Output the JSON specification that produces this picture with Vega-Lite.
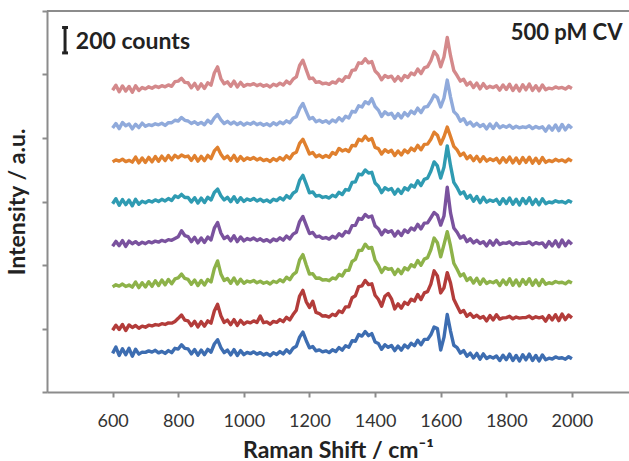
{
"$schema": "https://vega.github.io/schema/vega-lite/v6.json",
"width": 582,
"height": 381,
"autosize": {"type": "none"},
"padding": {"left": 47, "top": 11, "right": 0, "bottom": 69},
"background": "white",
"config": {"view": {"stroke": null}, "font": "Lato"},
"layer": [
{
"data": {"values": [
{"x":600,"s1":304,"s2":486,"s3":828,"s4":1148,"s5":1482,"s6":1812,"s7":2078,"s8":2376},
{"x":610,"s1":354,"s2":526,"s3":844,"s4":1186,"s5":1522,"s6":1828,"s7":2114,"s8":2416},
{"x":620,"s1":288,"s2":492,"s3":834,"s4":1152,"s5":1470,"s6":1818,"s7":2074,"s8":2364},
{"x":630,"s1":340,"s2":532,"s3":850,"s4":1192,"s5":1515,"s6":1833,"s7":2122,"s8":2410},
{"x":640,"s1":294,"s2":484,"s3":831,"s4":1146,"s5":1475,"s6":1814,"s7":2096,"s8":2370},
{"x":650,"s1":344,"s2":528,"s3":842,"s4":1188,"s5":1511,"s6":1824,"s7":2111,"s8":2406},
{"x":660,"s1":282,"s2":508,"s3":826,"s4":1167,"s5":1466,"s6":1810,"s7":2072,"s8":2360},
{"x":670,"s1":336,"s2":524,"s3":866,"s4":1184,"s5":1517,"s6":1850,"s7":2108,"s8":2411},
{"x":680,"s1":298,"s2":502,"s3":822,"s4":1162,"s5":1478,"s6":1804,"s7":2082,"s8":2374},
{"x":690,"s1":314,"s2":519,"s3":860,"s4":1179,"s5":1502,"s6":1843,"s7":2117,"s8":2397},
{"x":700,"s1":312,"s2":510,"s3":827,"s4":1168,"s5":1490,"s6":1808,"s7":2092,"s8":2387},
{"x":710,"s1":324,"s2":526,"s3":868,"s4":1184,"s5":1507,"s6":1848,"s7":2105,"s8":2403},
{"x":720,"s1":314,"s2":520,"s3":832,"s4":1175,"s5":1496,"s6":1812,"s7":2098,"s8":2392},
{"x":730,"s1":328,"s2":531,"s3":876,"s4":1188,"s5":1513,"s6":1854,"s7":2112,"s8":2408},
{"x":740,"s1":308,"s2":526,"s3":838,"s4":1180,"s5":1500,"s6":1817,"s7":2104,"s8":2398},
{"x":750,"s1":320,"s2":538,"s3":882,"s4":1194,"s5":1517,"s6":1857,"s7":2116,"s8":2412},
{"x":760,"s1":304,"s2":532,"s3":844,"s4":1185,"s5":1504,"s6":1822,"s7":2099,"s8":2403},
{"x":770,"s1":326,"s2":544,"s3":886,"s4":1200,"s5":1523,"s6":1862,"s7":2121,"s8":2418},
{"x":780,"s1":310,"s2":542,"s3":852,"s4":1194,"s5":1508,"s6":1828,"s7":2120,"s8":2407},
{"x":790,"s1":344,"s2":556,"s3":890,"s4":1208,"s5":1544,"s6":1864,"s7":2140,"s8":2444},
{"x":800,"s1":338,"s2":580,"s3":898,"s4":1222,"s5":1532,"s6":1844,"s7":2134,"s8":2448},
{"x":810,"s1":372,"s2":606,"s3":928,"s4":1270,"s5":1556,"s6":1866,"s7":2162,"s8":2470},
{"x":820,"s1":344,"s2":566,"s3":894,"s4":1232,"s5":1532,"s6":1852,"s7":2139,"s8":2438},
{"x":830,"s1":340,"s2":560,"s3":886,"s4":1224,"s5":1532,"s6":1858,"s7":2134,"s8":2435},
{"x":840,"s1":300,"s2":522,"s3":848,"s4":1184,"s5":1496,"s6":1824,"s7":2114,"s8":2395},
{"x":850,"s1":334,"s2":556,"s3":882,"s4":1218,"s5":1530,"s6":1861,"s7":2128,"s8":2430},
{"x":860,"s1":290,"s2":512,"s3":838,"s4":1174,"s5":1488,"s6":1818,"s7":2108,"s8":2385},
{"x":870,"s1":330,"s2":554,"s3":878,"s4":1213,"s5":1527,"s6":1855,"s7":2123,"s8":2426},
{"x":880,"s1":294,"s2":518,"s3":842,"s4":1178,"s5":1492,"s6":1822,"s7":2104,"s8":2390},
{"x":890,"s1":336,"s2":560,"s3":886,"s4":1220,"s5":1534,"s6":1863,"s7":2140,"s8":2435},
{"x":900,"s1":314,"s2":542,"s3":866,"s4":1198,"s5":1512,"s6":1838,"s7":2117,"s8":2416},
{"x":910,"s1":378,"s2":638,"s3":972,"s4":1290,"s5":1571,"s6":1898,"s7":2158,"s8":2512},
{"x":920,"s1":412,"s2":690,"s3":1032,"s4":1334,"s5":1598,"s6":1926,"s7":2185,"s8":2560},
{"x":930,"s1":350,"s2":600,"s3":930,"s4":1252,"s5":1546,"s6":1872,"s7":2142,"s8":2468},
{"x":940,"s1":310,"s2":548,"s3":878,"s4":1208,"s5":1512,"s6":1837,"s7":2114,"s8":2427},
{"x":950,"s1":330,"s2":566,"s3":894,"s4":1226,"s5":1533,"s6":1858,"s7":2131,"s8":2442},
{"x":960,"s1":292,"s2":530,"s3":856,"s4":1190,"s5":1498,"s6":1824,"s7":2110,"s8":2407},
{"x":970,"s1":334,"s2":570,"s3":898,"s4":1230,"s5":1538,"s6":1863,"s7":2126,"s8":2448},
{"x":980,"s1":288,"s2":524,"s3":850,"s4":1184,"s5":1494,"s6":1818,"s7":2106,"s8":2402},
{"x":990,"s1":326,"s2":564,"s3":888,"s4":1221,"s5":1530,"s6":1854,"s7":2122,"s8":2438},
{"x":1000,"s1":294,"s2":534,"s3":856,"s4":1190,"s5":1500,"s6":1824,"s7":2102,"s8":2407},
{"x":1010,"s1":312,"s2":552,"s3":874,"s4":1208,"s5":1520,"s6":1843,"s7":2118,"s8":2422},
{"x":1020,"s1":302,"s2":544,"s3":866,"s4":1198,"s5":1509,"s6":1832,"s7":2108,"s8":2417},
{"x":1030,"s1":316,"s2":560,"s3":878,"s4":1212,"s5":1524,"s6":1846,"s7":2124,"s8":2428},
{"x":1040,"s1":298,"s2":548,"s3":860,"s4":1193,"s5":1504,"s6":1827,"s7":2105,"s8":2412},
{"x":1050,"s1":310,"s2":598,"s3":872,"s4":1206,"s5":1518,"s6":1840,"s7":2116,"s8":2423},
{"x":1060,"s1":292,"s2":546,"s3":856,"s4":1188,"s5":1500,"s6":1822,"s7":2100,"s8":2408},
{"x":1070,"s1":304,"s2":552,"s3":866,"s4":1200,"s5":1512,"s6":1832,"s7":2112,"s8":2418},
{"x":1080,"s1":286,"s2":534,"s3":850,"s4":1182,"s5":1495,"s6":1815,"s7":2097,"s8":2402},
{"x":1090,"s1":310,"s2":556,"s3":872,"s4":1204,"s5":1518,"s6":1838,"s7":2120,"s8":2423},
{"x":1100,"s1":296,"s2":548,"s3":862,"s4":1192,"s5":1507,"s6":1822,"s7":2104,"s8":2412},
{"x":1110,"s1":318,"s2":570,"s3":884,"s4":1214,"s5":1530,"s6":1846,"s7":2126,"s8":2432},
{"x":1120,"s1":300,"s2":554,"s3":868,"s4":1196,"s5":1512,"s6":1827,"s7":2112,"s8":2417},
{"x":1130,"s1":332,"s2":588,"s3":904,"s4":1228,"s5":1546,"s6":1860,"s7":2135,"s8":2448},
{"x":1140,"s1":308,"s2":568,"s3":884,"s4":1206,"s5":1526,"s6":1837,"s7":2120,"s8":2428},
{"x":1150,"s1":344,"s2":610,"s3":924,"s4":1243,"s5":1565,"s6":1876,"s7":2156,"s8":2463},
{"x":1160,"s1":360,"s2":644,"s3":944,"s4":1258,"s5":1582,"s6":1888,"s7":2168,"s8":2481},
{"x":1170,"s1":432,"s2":756,"s3":1040,"s4":1342,"s5":1666,"s6":1958,"s7":2232,"s8":2571},
{"x":1180,"s1":472,"s2":800,"s3":1082,"s4":1382,"s5":1706,"s6":1990,"s7":2272,"s8":2612},
{"x":1190,"s1":406,"s2":712,"s3":1002,"s4":1314,"s5":1638,"s6":1934,"s7":2210,"s8":2538},
{"x":1200,"s1":348,"s2":666,"s3":928,"s4":1248,"s5":1568,"s6":1874,"s7":2150,"s8":2467},
{"x":1210,"s1":358,"s2":714,"s3":932,"s4":1256,"s5":1576,"s6":1886,"s7":2162,"s8":2472},
{"x":1220,"s1":324,"s2":626,"s3":896,"s4":1222,"s5":1542,"s6":1852,"s7":2128,"s8":2438},
{"x":1230,"s1":332,"s2":618,"s3":898,"s4":1228,"s5":1548,"s6":1866,"s7":2140,"s8":2443},
{"x":1240,"s1":316,"s2":598,"s3":882,"s4":1210,"s5":1532,"s6":1847,"s7":2124,"s8":2427},
{"x":1250,"s1":324,"s2":600,"s3":884,"s4":1216,"s5":1538,"s6":1862,"s7":2136,"s8":2432},
{"x":1260,"s1":310,"s2":590,"s3":876,"s4":1204,"s5":1527,"s6":1848,"s7":2117,"s8":2423},
{"x":1270,"s1":332,"s2":612,"s3":898,"s4":1226,"s5":1549,"s6":1886,"s7":2142,"s8":2442},
{"x":1280,"s1":318,"s2":602,"s3":890,"s4":1212,"s5":1537,"s6":1872,"s7":2127,"s8":2432},
{"x":1290,"s1":350,"s2":638,"s3":926,"s4":1246,"s5":1572,"s6":1918,"s7":2160,"s8":2463},
{"x":1300,"s1":330,"s2":626,"s3":914,"s4":1228,"s5":1555,"s6":1898,"s7":2136,"s8":2447},
{"x":1310,"s1":364,"s2":670,"s3":958,"s4":1264,"s5":1594,"s6":1910,"s7":2172,"s8":2482},
{"x":1320,"s1":352,"s2":670,"s3":958,"s4":1254,"s5":1589,"s6":1894,"s7":2158,"s8":2477},
{"x":1330,"s1":404,"s2":742,"s3":1028,"s4":1310,"s5":1650,"s6":1942,"s7":2210,"s8":2533},
{"x":1340,"s1":400,"s2":758,"s3":1044,"s4":1312,"s5":1655,"s6":1938,"s7":2204,"s8":2537},
{"x":1350,"s1":452,"s2":830,"s3":1114,"s4":1368,"s5":1716,"s6":1990,"s7":2254,"s8":2592},
{"x":1360,"s1":440,"s2":836,"s3":1116,"s4":1360,"s5":1710,"s6":1978,"s7":2244,"s8":2588},
{"x":1370,"s1":476,"s2":878,"s3":1164,"s4":1398,"s5":1748,"s6":2014,"s7":2286,"s8":2624},
{"x":1380,"s1":444,"s2":846,"s3":1132,"s4":1376,"s5":1724,"s6":1982,"s7":2270,"s8":2592},
{"x":1390,"s1":460,"s2":852,"s3":1138,"s4":1386,"s5":1730,"s6":1996,"s7":2310,"s8":2602},
{"x":1400,"s1":394,"s2":762,"s3":1038,"s4":1308,"s5":1646,"s6":1926,"s7":2248,"s8":2527},
{"x":1410,"s1":382,"s2":730,"s3":998,"s4":1286,"s5":1620,"s6":1916,"s7":2220,"s8":2502},
{"x":1420,"s1":336,"s2":676,"s3":942,"s4":1238,"s5":1570,"s6":1874,"s7":2170,"s8":2458},
{"x":1430,"s1":372,"s2":754,"s3":980,"s4":1276,"s5":1608,"s6":1908,"s7":2206,"s8":2492},
{"x":1440,"s1":352,"s2":776,"s3":966,"s4":1258,"s5":1591,"s6":1888,"s7":2184,"s8":2477},
{"x":1450,"s1":366,"s2":734,"s3":972,"s4":1270,"s5":1602,"s6":1903,"s7":2195,"s8":2487},
{"x":1460,"s1":326,"s2":654,"s3":926,"s4":1228,"s5":1558,"s6":1862,"s7":2155,"s8":2448},
{"x":1470,"s1":362,"s2":694,"s3":966,"s4":1266,"s5":1597,"s6":1898,"s7":2192,"s8":2483},
{"x":1480,"s1":330,"s2":660,"s3":932,"s4":1232,"s5":1563,"s6":1866,"s7":2158,"s8":2452},
{"x":1490,"s1":370,"s2":706,"s3":978,"s4":1276,"s5":1608,"s6":1906,"s7":2200,"s8":2492},
{"x":1500,"s1":348,"s2":690,"s3":962,"s4":1256,"s5":1591,"s6":1884,"s7":2174,"s8":2477},
{"x":1510,"s1":384,"s2":730,"s3":1002,"s4":1292,"s5":1630,"s6":1920,"s7":2212,"s8":2512},
{"x":1520,"s1":364,"s2":716,"s3":986,"s4":1276,"s5":1614,"s6":1900,"s7":2192,"s8":2498},
{"x":1530,"s1":408,"s2":768,"s3":1036,"s4":1320,"s5":1664,"s6":1942,"s7":2235,"s8":2543},
{"x":1540,"s1":372,"s2":728,"s3":998,"s4":1284,"s5":1626,"s6":1907,"s7":2200,"s8":2507},
{"x":1550,"s1":414,"s2":780,"s3":1046,"s4":1330,"s5":1674,"s6":1950,"s7":2243,"s8":2552},
{"x":1560,"s1":414,"s2":790,"s3":1058,"s4":1332,"s5":1684,"s6":1952,"s7":2248,"s8":2562},
{"x":1570,"s1":450,"s2":850,"s3":1120,"s4":1372,"s5":1738,"s6":1990,"s7":2288,"s8":2608},
{"x":1580,"s1":512,"s2":954,"s3":1212,"s4":1414,"s5":1812,"s6":2046,"s7":2338,"s8":2681},
{"x":1590,"s1":500,"s2":914,"s3":1176,"s4":1392,"s5":1780,"s6":2022,"s7":2318,"s8":2648},
{"x":1600,"s1":330,"s2":780,"s3":1064,"s4":1314,"s5":1684,"s6":1952,"s7":2244,"s8":2561},
{"x":1610,"s1":430,"s2":820,"s3":1160,"s4":1386,"s5":1770,"s6":2010,"s7":2314,"s8":2638},
{"x":1620,"s1":610,"s2":940,"s3":1262,"s4":1612,"s5":1938,"s6":2086,"s7":2456,"s8":2792},
{"x":1630,"s1":480,"s2":858,"s3":1150,"s4":1410,"s5":1782,"s6":2012,"s7":2322,"s8":2648},
{"x":1640,"s1":368,"s2":730,"s3":1014,"s4":1292,"s5":1650,"s6":1934,"s7":2208,"s8":2531},
{"x":1650,"s1":350,"s2":678,"s3":966,"s4":1258,"s5":1610,"s6":1906,"s7":2182,"s8":2492},
{"x":1660,"s1":306,"s2":626,"s3":914,"s4":1212,"s5":1560,"s6":1862,"s7":2132,"s8":2448},
{"x":1670,"s1":326,"s2":642,"s3":930,"s4":1230,"s5":1576,"s6":1882,"s7":2152,"s8":2462},
{"x":1680,"s1":282,"s2":596,"s3":878,"s4":1184,"s5":1526,"s6":1837,"s7":2107,"s8":2417},
{"x":1690,"s1":306,"s2":618,"s3":900,"s4":1206,"s5":1548,"s6":1860,"s7":2126,"s8":2438},
{"x":1700,"s1":268,"s2":588,"s3":858,"s4":1174,"s5":1502,"s6":1822,"s7":2094,"s8":2398},
{"x":1710,"s1":304,"s2":604,"s3":896,"s4":1194,"s5":1540,"s6":1856,"s7":2115,"s8":2432},
{"x":1720,"s1":258,"s2":582,"s3":848,"s4":1170,"s5":1490,"s6":1814,"s7":2090,"s8":2387},
{"x":1730,"s1":300,"s2":594,"s3":890,"s4":1184,"s5":1533,"s6":1853,"s7":2106,"s8":2428},
{"x":1740,"s1":264,"s2":560,"s3":854,"s4":1150,"s5":1495,"s6":1818,"s7":2072,"s8":2392},
{"x":1750,"s1":280,"s2":602,"s3":870,"s4":1190,"s5":1512,"s6":1836,"s7":2110,"s8":2407},
{"x":1760,"s1":268,"s2":568,"s3":860,"s4":1156,"s5":1501,"s6":1822,"s7":2075,"s8":2397},
{"x":1770,"s1":284,"s2":608,"s3":876,"s4":1196,"s5":1517,"s6":1840,"s7":2115,"s8":2412},
{"x":1780,"s1":248,"s2":574,"s3":838,"s4":1162,"s5":1478,"s6":1804,"s7":2080,"s8":2377},
{"x":1790,"s1":290,"s2":584,"s3":882,"s4":1174,"s5":1522,"s6":1845,"s7":2096,"s8":2418},
{"x":1800,"s1":254,"s2":586,"s3":846,"s4":1170,"s5":1484,"s6":1810,"s7":2084,"s8":2382},
{"x":1810,"s1":298,"s2":596,"s3":892,"s4":1182,"s5":1528,"s6":1850,"s7":2100,"s8":2423},
{"x":1820,"s1":248,"s2":576,"s3":840,"s4":1160,"s5":1478,"s6":1804,"s7":2077,"s8":2374},
{"x":1830,"s1":288,"s2":590,"s3":882,"s4":1176,"s5":1518,"s6":1843,"s7":2092,"s8":2415},
{"x":1840,"s1":244,"s2":582,"s3":836,"s4":1166,"s5":1473,"s6":1800,"s7":2080,"s8":2370},
{"x":1850,"s1":294,"s2":586,"s3":886,"s4":1172,"s5":1524,"s6":1846,"s7":2088,"s8":2420},
{"x":1860,"s1":254,"s2":586,"s3":848,"s4":1170,"s5":1484,"s6":1808,"s7":2083,"s8":2380},
{"x":1870,"s1":298,"s2":598,"s3":892,"s4":1182,"s5":1529,"s6":1849,"s7":2096,"s8":2425},
{"x":1880,"s1":248,"s2":578,"s3":840,"s4":1160,"s5":1477,"s6":1802,"s7":2074,"s8":2375},
{"x":1890,"s1":288,"s2":592,"s3":882,"s4":1176,"s5":1517,"s6":1841,"s7":2090,"s8":2412},
{"x":1900,"s1":244,"s2":584,"s3":838,"s4":1166,"s5":1474,"s6":1800,"s7":2078,"s8":2372},
{"x":1910,"s1":292,"s2":592,"s3":886,"s4":1174,"s5":1522,"s6":1846,"s7":2088,"s8":2418},
{"x":1920,"s1":254,"s2":558,"s3":848,"s4":1140,"s5":1483,"s6":1808,"s7":2054,"s8":2380},
{"x":1930,"s1":266,"s2":602,"s3":860,"s4":1184,"s5":1496,"s6":1824,"s7":2095,"s8":2393},
{"x":1940,"s1":260,"s2":568,"s3":854,"s4":1150,"s5":1490,"s6":1814,"s7":2062,"s8":2387},
{"x":1950,"s1":276,"s2":608,"s3":870,"s4":1190,"s5":1506,"s6":1832,"s7":2103,"s8":2402},
{"x":1960,"s1":266,"s2":562,"s3":860,"s4":1144,"s5":1495,"s6":1819,"s7":2058,"s8":2392},
{"x":1970,"s1":270,"s2":614,"s3":864,"s4":1196,"s5":1500,"s6":1828,"s7":2107,"s8":2398},
{"x":1980,"s1":258,"s2":570,"s3":852,"s4":1152,"s5":1488,"s6":1812,"s7":2064,"s8":2385},
{"x":1990,"s1":278,"s2":606,"s3":872,"s4":1188,"s5":1507,"s6":1834,"s7":2100,"s8":2405},
{"x":2000,"s1":262,"s2":584,"s3":858,"s4":1164,"s5":1492,"s6":1818,"s7":2076,"s8":2390}
]},
"transform": [{"fold": ["s1","s2","s3","s4","s5","s6","s7","s8"], "as": ["series","counts"]}],
"mark": {"type": "line", "strokeWidth": 3.4, "strokeJoin": "round"},
"encoding": {
"x": {"field": "x", "type": "quantitative", "title": "Raman Shift / cm⁻¹",
"scale": {"domain": [400, 2174], "nice": false, "zero": false},
"axis": {"values": [600,800,1000,1200,1400,1600,1800,2000], "format": "d", "grid": false, "domainColor": "#8c8c8c", "domainWidth": 2, "tickColor": "#8c8c8c", "tickWidth": 2, "tickSize": 5, "labelFont": "Lato", "labelFontSize": 18, "labelColor": "#333333", "labelPadding": 15, "titleFont": "Lato", "titleFontSize": 23, "titleFontWeight": "bold", "titleColor": "#222222", "titlePadding": 9}},
"y": {"field": "counts", "type": "quantitative", "title": "Intensity / a.u.",
"scale": {"domain": [0, 3000], "nice": false},
"axis": {"values": [0,500,1000,1500,2000,2500,3000], "grid": false, "labels": false, "domainColor": "#8c8c8c", "domainWidth": 2, "tickColor": "#8c8c8c", "tickWidth": 2, "tickSize": 5, "titleFont": "Lato", "titleFontSize": 23, "titleFontWeight": "bold", "titleColor": "#222222", "titlePadding": 12}},
"color": {"field": "series", "type": "nominal", "legend": null,
"scale": {"domain": ["s1","s2","s3","s4","s5","s6","s7","s8"], "range": ["#3d6db1","#b33c3a","#8db249","#7a529e","#2f9bb2","#e0802e","#90aadb","#d4898b"]}}
}
},
{
"data": {"values": [{}]},
"mark": {"type": "rule", "color": "#8c8c8c", "strokeWidth": 2},
"encoding": {"y": {"datum": 3000}}
},
{
"data": {"values": [{}]},
"mark": {"type": "rule", "color": "#222222", "strokeWidth": 3},
"encoding": {"x": {"datum": 455}, "y": {"datum": 2670}, "y2": {"datum": 2870}}
},
{
"data": {"values": [{"v": 2670}, {"v": 2870}]},
"mark": {"type": "rule", "color": "#222222", "strokeWidth": 3},
"encoding": {"x": {"datum": 446}, "x2": {"datum": 464}, "y": {"field": "v", "type": "quantitative"}}
},
{
"data": {"values": [{}]},
"mark": {"type": "text", "text": "200 counts", "align": "left", "baseline": "middle", "font": "Lato", "fontSize": 23, "fontWeight": "bold", "color": "#222222"},
"encoding": {"x": {"datum": 488}, "y": {"datum": 2756}}
},
{
"data": {"values": [{}]},
"mark": {"type": "text", "text": "500 pM CV", "align": "right", "baseline": "middle", "font": "Lato", "fontSize": 22, "fontWeight": "bold", "color": "#222222"},
"encoding": {"x": {"datum": 2154}, "y": {"datum": 2827}}
}
]
}
